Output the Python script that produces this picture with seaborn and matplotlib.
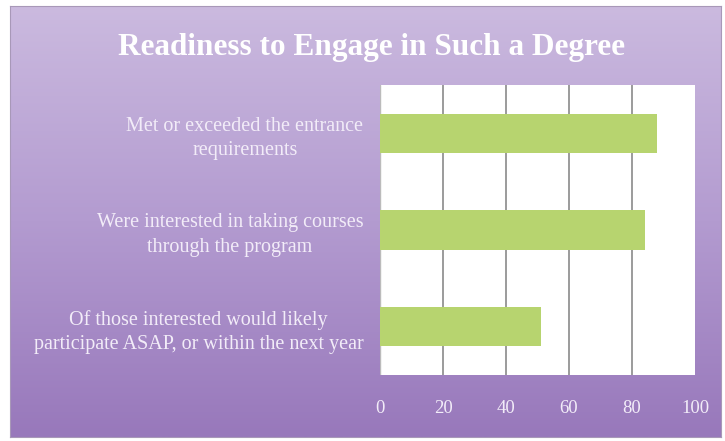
import numpy as np
import matplotlib
matplotlib.use("Agg")
import matplotlib.pyplot as plt
import matplotlib.colors as mcolors
import seaborn as sns
import pandas as pd

categories = [
    "Met or exceeded the entrance\nrequirements",
    "Were interested in taking courses\nthrough the program",
    "Of those interested would likely\nparticipate ASAP, or within the next year",
]
values = [88, 84, 51]
xticks = [0, 20, 40, 60, 80, 100]
title = "Readiness to Engage in Such a Degree"

sns.set_theme(style="white")
plt.rcParams["font.family"] = ["Liberation Serif", "DejaVu Serif"]

fig = plt.figure(figsize=(7.25, 4.41), dpi=100)
fig.patch.set_facecolor("white")

# gradient panel background
W, H = 725, 441
px0, px1, py0, py1 = 10, 721, 6, 437
bg = fig.add_axes([px0 / W, 1 - py1 / H, (px1 - px0) / W, (py1 - py0) / H])
grad = np.linspace(0, 1, 256).reshape(-1, 1)
cmap = mcolors.LinearSegmentedColormap.from_list("p", ["#cbbadf", "#b39bd0", "#9878bb"])
bg.imshow(grad, aspect="auto", cmap=cmap, extent=[0, 1, 0, 1], origin="upper")
bg.set_xticks([]); bg.set_yticks([])
for s in bg.spines.values():
    s.set_color("#a898b8"); s.set_linewidth(0.8)

df = pd.DataFrame({"category": categories, "value": values})
ax = fig.add_axes([380 / W, 1 - 375 / H, 315 / W, 290 / H])
ax.set_facecolor("white")
sns.barplot(data=df, x="value", y="category", orient="h", ax=ax,
            color="#b7d46f", width=0.41, saturation=1, edgecolor="none")
ax.set_xlim(0, 100)
ax.set_xticks(xticks)
ax.set_xticklabels([str(t) for t in xticks], color="#f2ecf8", fontsize=13.5)
ax.tick_params(axis="x", length=0, pad=18)
ax.tick_params(axis="y", length=0, pad=12)
for lab in ax.get_yticklabels():
    lab.set_color("#f2ecf8")
    lab.set_fontsize(14.5)
    lab.set_multialignment("center")
    lab.set_linespacing(1.4)
ax.set_xlabel(""); ax.set_ylabel("")
for t in xticks[1:-1]:
    ax.axvline(t, color="#8a8a8a", lw=1.2, zorder=0)
for s in ax.spines.values():
    s.set_visible(False)
ax.axvline(0, color="#bbbbbb", lw=1.0, zorder=0)

fig.text(372 / W, 1 - 47 / H, title, ha="center", va="center", color="white",
         fontsize=22.5, fontweight="bold")

fig.savefig("out.png", dpi=100, facecolor="white")
